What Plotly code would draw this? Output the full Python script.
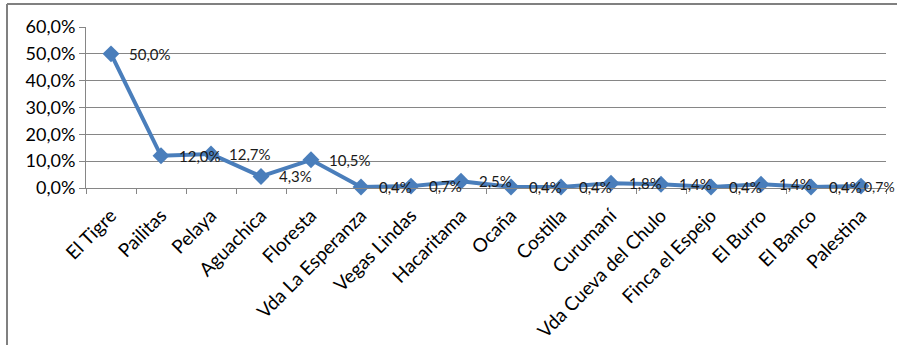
import plotly.graph_objects as go

categories = ["El Tigre", "Pailitas", "Pelaya", "Aguachica", "Floresta",
              "Vda La Esperanza", "Vegas Lindas", "Hacaritama", "Ocaña",
              "Costilla", "Curumaní", "Vda Cueva del Chulo", "Finca el Espejo",
              "El Burro", "El Banco", "Palestina"]
values = [50.0, 12.0, 12.7, 4.3, 10.5, 0.4, 0.7, 2.5, 0.4, 0.4, 1.8, 1.4, 0.4, 1.4, 0.4, 0.7]
labels = [f"{v:.1f}%".replace(".", ",") for v in values]

W, H = 897, 345
ml, mr, mt, mb = 86, 11, 27, 157
pw, ph = W - ml - mr, H - mt - mb

blue = "#4A7EBB"
font = "Lato, 'Liberation Sans', Arial, sans-serif"

fig = go.Figure()
fig.add_trace(go.Scatter(
    x=categories, y=values, mode="lines+markers",
    line=dict(color=blue, width=4),
    marker=dict(symbol="diamond", size=13, color=blue),
    cliponaxis=False, hoverinfo="skip"))

n = len(categories)
for i, (c, v, t) in enumerate(zip(categories, values, labels)):
    last = i == n - 1
    fig.add_annotation(x=c, y=v, text=t, showarrow=False, xanchor="left",
                       yanchor="middle", xshift=(2 if last else 17),
                       borderpad=0,
                       font=dict(family=font, size=(14 if last else 15),
                                 color="#1a1a1a"))

def px_x(x):
    return (x - ml) / pw

def px_y(y):
    return 1 - (y - mt) / ph

fig.update_layout(
    width=W, height=H,
    margin=dict(l=ml, r=mr, t=mt, b=mb, autoexpand=False),
    paper_bgcolor="white", plot_bgcolor="white",
    separators=",.",
    showlegend=False,
    font=dict(family=font, color="#000"),
    xaxis=dict(type="category", tickangle=-45, tickson="boundaries",
               ticks="outside", ticklen=5, tickcolor="#868686",
               ticklabelstandoff=8,
               showgrid=False, showline=True, linecolor="#868686", linewidth=1,
               tickfont=dict(family=font, size=19, color="#000"),
               range=[-0.5, n - 0.5]),
    yaxis=dict(range=[0, 60], dtick=10, tickformat=".1f", ticksuffix="%",
               ticks="outside", ticklen=6, tickcolor="#868686",
               showgrid=True, gridcolor="#868686", gridwidth=1,
               showline=True, linecolor="#868686", linewidth=1,
               zeroline=False,
               tickfont=dict(family=font, size=18, color="#000")),
    shapes=[
        dict(type="line", xref="paper", yref="paper",
             x0=px_x(7), x1=px_x(7), y0=px_y(4), y1=px_y(H + 10),
             line=dict(color="#808080", width=2)),
        dict(type="line", xref="paper", yref="paper",
             x0=px_x(7), x1=px_x(W + 10), y0=px_y(4), y1=px_y(4),
             line=dict(color="#808080", width=2)),
    ],
)

fig.write_html("out.html", config={"displayModeBar": False},
               post_script="document.body.style.margin='0';document.body.style.overflow='hidden';")
